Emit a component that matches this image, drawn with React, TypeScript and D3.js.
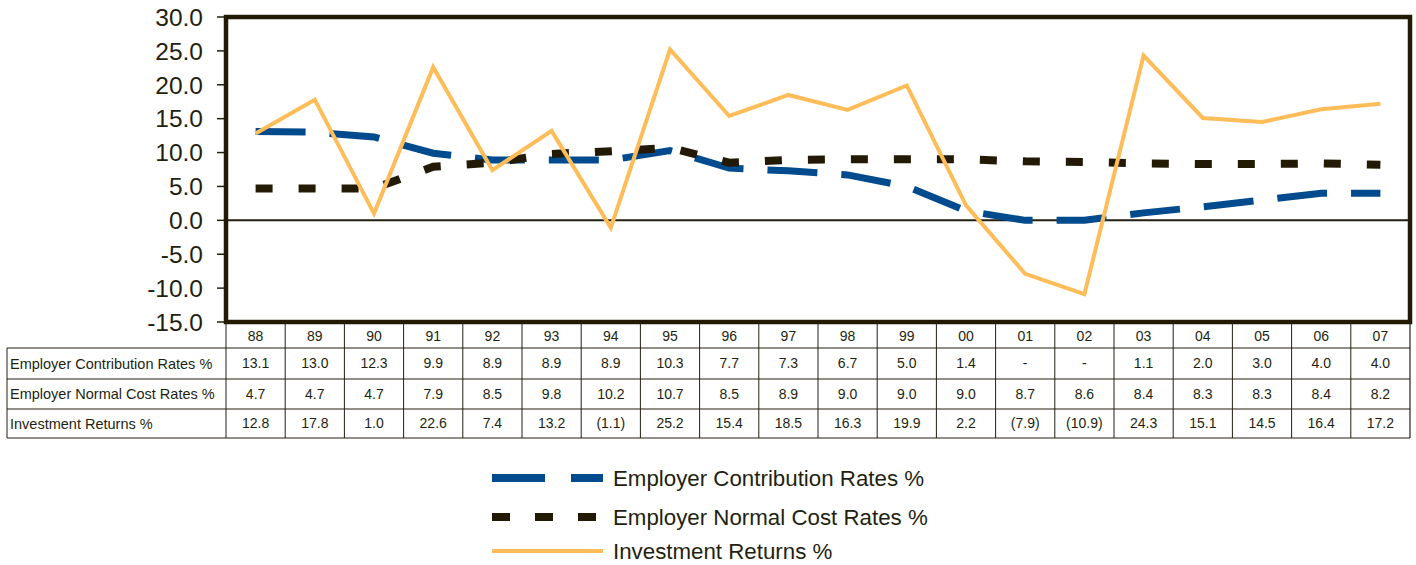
import React from 'react';
import * as d3 from 'd3';

const years = ['88','89','90','91','92','93','94','95','96','97','98','99','00','01','02','03','04','05','06','07'];
const contribution = [13.1,13.0,12.3,9.9,8.9,8.9,8.9,10.3,7.7,7.3,6.7,5.0,1.4,0,0,1.1,2.0,3.0,4.0,4.0];
const normalCost = [4.7,4.7,4.7,7.9,8.5,9.8,10.2,10.7,8.5,8.9,9.0,9.0,9.0,8.7,8.6,8.4,8.3,8.3,8.4,8.2];
const returns = [12.8,17.8,1.0,22.6,7.4,13.2,-1.1,25.2,15.4,18.5,16.3,19.9,2.2,-7.9,-10.9,24.3,15.1,14.5,16.4,17.2];
const yTicks = [30,25,20,15,10,5,0,-5,-10,-15];
const seriesNames = ['Employer Contribution Rates %','Employer Normal Cost Rates %','Investment Returns %'];

const BLUE = '#004B8D';
const BLACK = '#221A05';
const ORANGE = '#FFBD59';
const TEXT = '#231F10';
const FONT = '"Liberation Sans", Arial, sans-serif';

export default function App() {
  const W = 1416, H = 565;
  const L = 226, R = 1410, T = 17, B = 322;
  const x = d3.scaleBand<string>().domain(years).range([L, R]);
  const y = d3.scaleLinear().domain([-15, 30]).range([B, T]);
  const cx = (yr: string) => (x(yr) as number) + x.bandwidth() / 2;
  const line = d3.line<number>().x((_, i) => cx(years[i])).y(v => y(v));

  const rowLines = [348, 379, 409, 438];
  const rows = [
    { name: seriesNames[0], vals: contribution.map(v => (v === 0 ? '-' : v.toFixed(1))) },
    { name: seriesNames[1], vals: normalCost.map(v => v.toFixed(1)) },
    { name: seriesNames[2], vals: returns.map(v => (v < 0 ? `(${Math.abs(v).toFixed(1)})` : v.toFixed(1))) },
  ];

  const legendY = [478, 517, 551];
  const legendStyles = [
    { stroke: BLUE, width: 8, dash: '53 26' },
    { stroke: BLACK, width: 8, dash: '18 25' },
    { stroke: ORANGE, width: 4, dash: undefined },
  ];

  return (
    <svg width={W} height={H} style={{ position: 'absolute', left: 0, top: 0 }} fontFamily={FONT}>
      <rect x={0} y={0} width={W} height={H} fill="#fff" />
      {yTicks.map(t => (
        <g key={t}>
          <line x1={217} x2={L} y1={y(t)} y2={y(t)} stroke={TEXT} strokeWidth={1.5} />
          <text x={203} y={y(t)} dy="0.36em" textAnchor="end" fontSize={24.5} fill={TEXT}>{t.toFixed(1)}</text>
        </g>
      ))}
      <line x1={L} x2={R} y1={y(0)} y2={y(0)} stroke={TEXT} strokeWidth={2} />
      <path d={line(contribution) || ''} fill="none" stroke={BLUE} strokeWidth={7} strokeDasharray="50 24" />
      <path d={line(normalCost) || ''} fill="none" stroke={BLACK} strokeWidth={8} strokeDasharray="17 26" />
      <path d={line(returns) || ''} fill="none" stroke={ORANGE} strokeWidth={4} strokeLinejoin="miter" />
      <rect x={L} y={T} width={R - L} height={B - T} fill="none" stroke={BLACK} strokeWidth={4.5} />
      {years.map((yr, i) => (
        <g key={yr}>
          <text x={cx(yr)} y={(B + rowLines[0]) / 2 + 1} dy="0.35em" textAnchor="middle" fontSize={14} fill={TEXT}>{yr}</text>
          {rows.map((r, j) => (
            <text key={j} x={cx(yr)} y={(rowLines[j] + rowLines[j + 1]) / 2} dy="0.35em" textAnchor="middle" fontSize={14} fill={TEXT}>{r.vals[i]}</text>
          ))}
        </g>
      ))}
      {years.map((yr, i) => (
        <line key={'v' + i} x1={x(yr) as number} x2={x(yr) as number} y1={B} y2={rowLines[3]} stroke={TEXT} strokeWidth={1} />
      ))}
      <line x1={R} x2={R} y1={B} y2={rowLines[3]} stroke={TEXT} strokeWidth={1.2} />
      <line x1={7} x2={7} y1={rowLines[0]} y2={rowLines[3]} stroke={TEXT} strokeWidth={1} />
      {rowLines.map((ry, k) => (
        <line key={'h' + k} x1={7} x2={R} y1={ry} y2={ry} stroke={TEXT} strokeWidth={1} />
      ))}
      {rows.map((r, j) => (
        <text key={'n' + j} x={10} y={(rowLines[j] + rowLines[j + 1]) / 2} dy="0.35em" fontSize={14.5} fill={TEXT}>{r.name}</text>
      ))}
      {seriesNames.map((n, k) => (
        <g key={n}>
          <line x1={492} x2={603} y1={legendY[k]} y2={legendY[k]} stroke={legendStyles[k].stroke} strokeWidth={legendStyles[k].width} strokeDasharray={legendStyles[k].dash} />
          <text x={613} y={legendY[k]} dy="0.36em" fontSize={22.3} fill={TEXT}>{n}</text>
        </g>
      ))}
    </svg>
  );
}
